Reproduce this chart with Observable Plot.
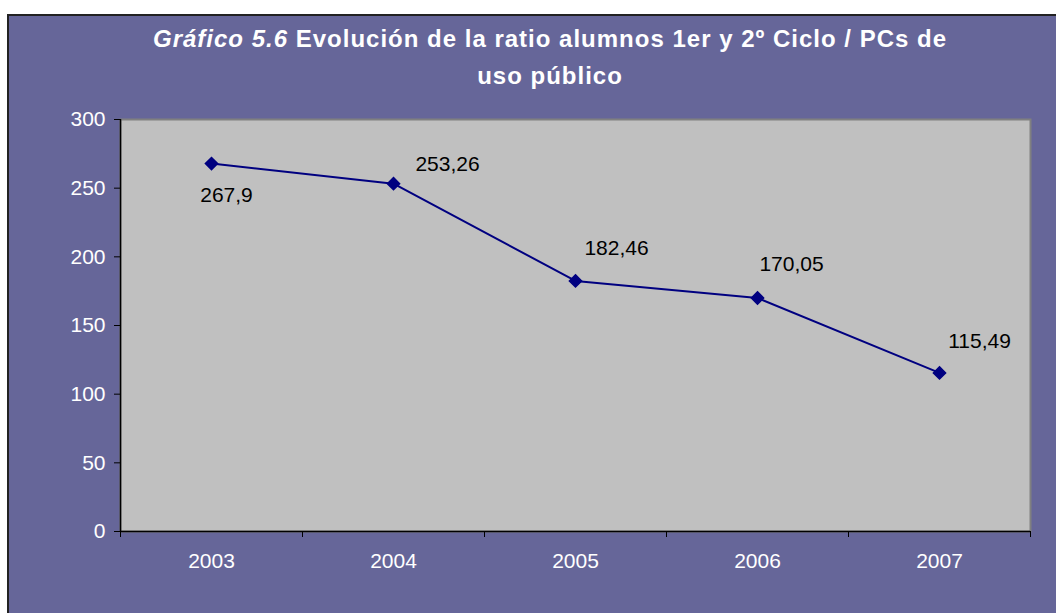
<!DOCTYPE html>
<html>
<head>
<meta charset="utf-8">
<script src="https://cdn.jsdelivr.net/npm/d3@7"></script>
<script src="https://cdn.jsdelivr.net/npm/@observablehq/plot@0.6"></script>
<style>
  html, body { margin: 0; padding: 0; background: #fff; width: 1056px; height: 613px; overflow: hidden; }
  #frame { position: absolute; left: 7px; top: 14px; width: 1100px; height: 650px; background: #666699;
           border-left: 2px solid #222; border-top: 2px solid #222; font-family: "Liberation Sans", Arial, sans-serif; }
  #title { position: absolute; left: 0; top: 4px; width: 1082px; text-align: center; color: #fff;
           font-weight: bold; font-size: 24px; line-height: 37px; letter-spacing: 1px; white-space: nowrap; }
  #chart { position: absolute; left: 0; top: 84px; }
</style>
</head>
<body>
<div id="frame">
  <div id="title"><i>Gráfico 5.6</i> Evolución de la ratio alumnos 1er y 2º Ciclo / PCs de<br>uso público</div>
  <div id="chart"></div>
</div>
<script>
const years = [2003, 2004, 2005, 2006, 2007];
const ratios = [267.9, 253.26, 182.46, 170.05, 115.49];
const yTicks = [0, 50, 100, 150, 200, 250, 300];

const data = years.map((year, i) => ({year, ratio: ratios[i]}));
const fmt = v => String(v).replace(".", ",");
const bounds = [years[0] - 0.5, ...years.map(y => y + 0.5)];

// label offsets (pixels) per point, matching the reference placement
const offsets = [[15, 32], [54, -19], [41, -33], [34, -34], [40, -32]];

const labelMarks = data.map((d, i) => Plot.text([d], {
  x: "year", y: "ratio", text: d => fmt(d.ratio),
  dx: offsets[i][0], dy: offsets[i][1], fill: "#000", fontSize: 21
}));

const plot = Plot.plot({
  width: 1047,
  height: 513,
  marginLeft: 111,
  marginRight: 26,
  marginTop: 19,
  marginBottom: 82,
  style: { fontFamily: "Liberation Sans, Arial, sans-serif", background: "transparent", overflow: "visible" },
  x: { domain: [bounds[0], bounds[bounds.length - 1]] },
  y: { domain: [0, 300] },
  marks: [
    Plot.frame({ fill: "#c0c0c0", stroke: "#808080", strokeWidth: 2 }),
    Plot.axisY(yTicks, { tickSize: 6, tickPadding: 9, stroke: "#000", fill: "#fff", fontSize: 21, label: null }),
    Plot.axisX(years, { tickSize: 0, tickPadding: 22, tickFormat: "d", fill: "#fff", fontSize: 21, label: null }),
    Plot.axisX(bounds, { tickSize: 6, tickFormat: () => "", stroke: "#000", label: null }),
    Plot.ruleY([0], { stroke: "#000", strokeWidth: 1.5 }),
    Plot.ruleX([bounds[0]], { stroke: "#000", strokeWidth: 1.5 }),
    Plot.line(data, { x: "year", y: "ratio", stroke: "#000080", strokeWidth: 2 }),
    Plot.dot(data, { x: "year", y: "ratio", symbol: "diamond2", r: 5.5, fill: "#000080", stroke: "#000080" }),
    ...labelMarks
  ]
});
document.getElementById("chart").appendChild(plot);
</script>
</body>
</html>
